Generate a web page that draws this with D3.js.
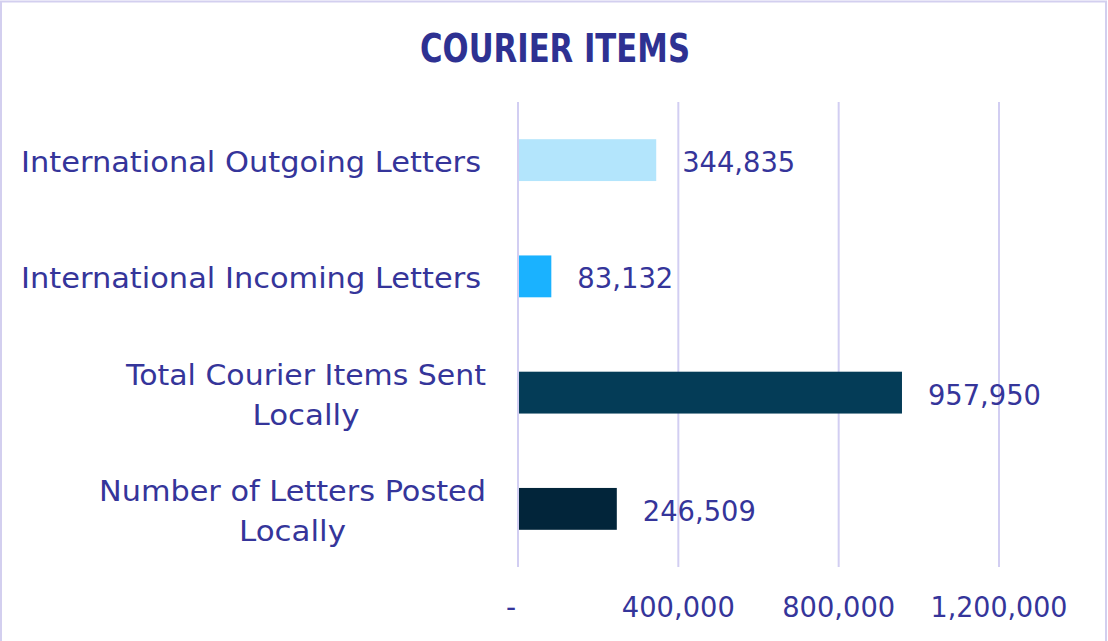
<!DOCTYPE html>
<html>
<head>
<meta charset="utf-8">
<script src="https://cdn.jsdelivr.net/npm/d3@7"></script>
<style>
html,body{margin:0;padding:0;background:#fff;}
svg{display:block;}
</style>
</head>
<body>
<svg id="chart" width="1108" height="641"></svg>
<script>
const categories = [
  "International Outgoing Letters",
  "International Incoming Letters",
  "Total Courier Items Sent Locally",
  "Number of Letters Posted Locally"
];
const labelLines = [
  ["International Outgoing Letters"],
  ["International Incoming Letters"],
  ["Total Courier Items Sent", "Locally"],
  ["Number of Letters Posted", "Locally"]
];
const values = [344835, 83132, 957950, 246509];
const barColors = ["#B3E5FC", "#1AB2FF", "#043C57", "#02253A"];
const tickValues = [0, 400000, 800000, 1200000];
const tickLabels = ["-", "400,000", "800,000", "1,200,000"];
const title = "COURIER ITEMS";

const textColor = "#35359A";
const gridColor = "#D2CEF2";
const font = "'DejaVu Sans', sans-serif";

const svg = d3.select("#chart");

// border
svg.append("rect").attr("x",1).attr("y",1.5).attr("width",1105).attr("height",645)
  .attr("fill","none").attr("stroke","#D3CFEF").attr("stroke-width",2);

const x = d3.scaleLinear().domain([0, 1200000]).range([518, 999]);
const y = d3.scaleBand().domain(categories).range([102, 567]).paddingInner(0.64).paddingOuter(0.32);

// title
svg.append("text").attr("x", 555).attr("y", 62).attr("text-anchor","middle")
  .attr("font-family","'Liberation Sans Narrow','DejaVu Sans Condensed',sans-serif")
  .attr("font-weight","bold").attr("font-size",39).attr("fill","#2E3192")
  .attr("textLength",270).attr("lengthAdjust","spacingAndGlyphs")
  .text(title);

// gridlines
svg.append("g").selectAll("line").data(tickValues).join("line")
  .attr("x1", d => x(d)).attr("x2", d => x(d))
  .attr("y1", 102).attr("y2", 567)
  .attr("stroke", gridColor).attr("stroke-width", 2);

// bars
svg.append("g").selectAll("rect").data(values).join("rect")
  .attr("x", x(0)+1)
  .attr("y", (d,i) => y(categories[i]))
  .attr("width", d => x(d) - x(0) - 1)
  .attr("height", y.bandwidth())
  .attr("fill", (d,i) => barColors[i]);

// value labels
const fmt = d3.format(",");
svg.append("g").selectAll("text").data(values).join("text")
  .attr("x", d => x(d) + 26)
  .attr("y", (d,i) => y(categories[i]) + y.bandwidth()/2 + 12)
  .attr("font-family", font).attr("font-size", 28).attr("fill", textColor)
  .attr("textLength", 113).attr("lengthAdjust","spacingAndGlyphs")
  .text(d => fmt(d))
  .each(function(d){ if (fmt(d).length < 7) d3.select(this).attr("textLength", 96); });

// category labels
const labelRight = 486;
const lg = svg.append("g");
labelLines.forEach((lines, i) => {
  const cy = y(categories[i]) + y.bandwidth()/2;
  const widths = lines.map(l => l === "Locally" ? 107 : (l.length > 25 ? 460 : (l.startsWith("Total") ? 360 : 387)));
  const maxW = Math.max(...widths);
  const cx = labelRight - maxW/2 - (lines.length === 1 ? 5 : 0);
  lines.forEach((line, j) => {
    const off = lines.length === 1 ? 0 : (j === 0 ? -20 : 20);
    lg.append("text")
      .attr("x", cx).attr("y", cy + off + 12)
      .attr("text-anchor","middle")
      .attr("font-family", font).attr("font-size", 29).attr("fill", textColor)
      .attr("textLength", widths[j]).attr("lengthAdjust","spacingAndGlyphs")
      .text(line);
  });
});

// tick labels
svg.append("g").selectAll("text").data(tickValues).join("text")
  .attr("x", d => x(d))
  .attr("y", 617)
  .attr("text-anchor","middle")
  .attr("font-family", font).attr("font-size", 28).attr("fill", textColor)
  .attr("transform", (d,i) => i === 0 ? "translate(-7,0)" : null)
  .text((d,i) => tickLabels[i])
  .each(function(d,i){
    const w = [0,113,113,137][i];
    if (w) d3.select(this).attr("textLength", w).attr("lengthAdjust","spacingAndGlyphs");
  });
</script>
</body>
</html>
